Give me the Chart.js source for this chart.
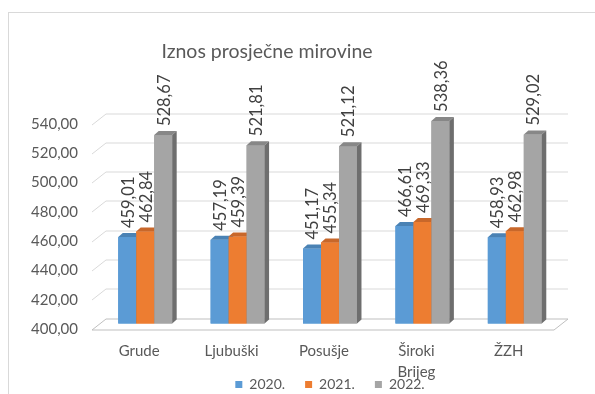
<!DOCTYPE html>
<html>
<head>
<meta charset="utf-8">
<script src="https://cdn.jsdelivr.net/npm/chart.js@4.4.1/dist/chart.umd.min.js"></script>
<style>
  html, body { margin: 0; padding: 0; background: #fff; }
  #wrap { position: relative; width: 595px; height: 394px; overflow: hidden; }
  #frame { position: absolute; left: 8px; top: 12px; width: 700px; height: 500px; border: 1px solid #d9d9d9; }
  #mirovine { position: absolute; left: 0; top: 0; }
</style>
</head>
<body>
<div id="wrap">
  <div id="frame"></div>
  <canvas id="mirovine" width="595" height="394"></canvas>
</div>
<script>
const opcine = ['Grude', 'Ljubuški', 'Posušje', ['Široki', 'Brijeg'], 'ŽZH'];
const godine = ['2020.', '2021.', '2022.'];
const iznos2020 = [459.01, 457.19, 451.17, 466.61, 458.93];
const iznos2021 = [462.84, 459.39, 455.34, 469.33, 462.98];
const iznos2022 = [528.67, 521.81, 521.12, 538.36, 529.02];
const boje = ['#5b9bd5', '#ed7d31', '#a5a5a5'];
const bojeVrh = ['#4a82b4', '#c8672a', '#878787'];
const bojeBok = ['#3f6f99', '#a9551f', '#6e6e6e'];

const fmt = v => v.toFixed(2).replace('.', ',');
const FONT = 'Lato, "Open Sans", sans-serif';

// depth of the floor/back wall and of a single bar
const DX = 7, DY = 5.5;
const BX = 4.5, BY = 4;

const zidPlugin = {
  id: 'zid',
  afterLayout(chart) {
    // let the two-line category label run down past the axis box
    chart.scales.x.bottom = chart.height;
  },
  beforeDatasetsDraw(chart) {
    const {ctx, chartArea: a, scales: {y}} = chart;
    ctx.save();
    ctx.lineWidth = 1;
    y.ticks.forEach(t => {
      const py = Math.round(y.getPixelForValue(t.value)) + 0.5;
      ctx.strokeStyle = t.value === y.min ? '#bfbfbf' : '#d9d9d9';
      ctx.beginPath();
      ctx.moveTo(a.left - DX, py + DY);
      ctx.lineTo(a.left + DX, py - DY);
      ctx.lineTo(a.right + DX, py - DY);
      if (t.value === y.min) {
        ctx.lineTo(a.right - DX, py + DY);
        ctx.lineTo(a.left - DX, py + DY);
      }
      ctx.stroke();
    });
    ctx.restore();
  },
  afterDatasetsDraw(chart) {
    const {ctx, chartArea: a} = chart;
    ctx.save();
    // redraw the bars left to right so each bar hides the side of the one before it
    chart.data.datasets.forEach((ds, i) => {
      chart.getDatasetMeta(i).data.forEach(bar => {
        const l = bar.x - bar.width / 2, r = bar.x + bar.width / 2;
        const base = Math.min(bar.base, a.bottom);
        ctx.fillStyle = boje[i];
        ctx.fillRect(l, bar.y, bar.width, base - bar.y);
        ctx.fillStyle = bojeVrh[i];
        ctx.beginPath();
        ctx.moveTo(l, bar.y);
        ctx.lineTo(r, bar.y);
        ctx.lineTo(r + BX, bar.y - BY);
        ctx.lineTo(l + BX, bar.y - BY);
        ctx.closePath();
        ctx.fill();
        ctx.fillStyle = bojeBok[i];
        ctx.beginPath();
        ctx.moveTo(r, bar.y);
        ctx.lineTo(r + BX, bar.y - BY);
        ctx.lineTo(r + BX, base - BY);
        ctx.lineTo(r, base);
        ctx.closePath();
        ctx.fill();
      });
    });
    ctx.fillStyle = '#404040';
    ctx.font = '16.5px ' + FONT;
    ctx.textAlign = 'left';
    ctx.textBaseline = 'middle';
    chart.data.datasets.forEach((ds, i) => {
      chart.getDatasetMeta(i).data.forEach((bar, j) => {
        ctx.save();
        ctx.translate(bar.x + 1, bar.y - 9);
        ctx.rotate(-Math.PI / 2);
        ctx.fillText(fmt(ds.data[j]), 0, 0);
        ctx.restore();
      });
    });
    // naslov
    ctx.fillStyle = '#595959';
    ctx.font = '19.5px ' + FONT;
    ctx.textAlign = 'center';
    ctx.fillText('Iznos prosječne mirovine', 267, 52);
    ctx.restore();
  }
};

new Chart(document.getElementById('mirovine').getContext('2d'), {
  type: 'bar',
  data: {
    labels: opcine,
    datasets: [
      { label: godine[0], data: iznos2020, backgroundColor: boje[0] },
      { label: godine[1], data: iznos2021, backgroundColor: boje[1] },
      { label: godine[2], data: iznos2022, backgroundColor: boje[2] }
    ]
  },
  options: {
    responsive: false,
    animation: false,
    layout: { padding: { top: 118.5, right: 34, left: 0, bottom: -7.5 } },
    datasets: { bar: { categoryPercentage: 0.584, barPercentage: 1 } },
    plugins: {
      tooltip: { enabled: false },
      legend: {
        position: 'bottom',
        fullSize: false,
        labels: {
          boxWidth: 7, boxHeight: 7, padding: 20,
          color: '#595959',
          font: { family: FONT, size: 14 }
        }
      }
    },
    scales: {
      x: {
        grid: { display: false, drawTicks: false },
        border: { display: false },
        ticks: { color: '#595959', font: { family: FONT, size: 15, lineHeight: 1.35 }, padding: 18, labelOffset: -6, maxRotation: 0 },
        afterFit: s => { s.height = 34; }
      },
      y: {
        min: 400, max: 540,
        grid: { display: false, drawTicks: false },
        border: { display: false },
        ticks: { stepSize: 20, color: '#595959', font: { family: FONT, size: 15 }, padding: 21, labelOffset: 5.5, callback: v => fmt(v) },
        afterFit: s => { s.width = 99; }
      }
    }
  },
  plugins: [zidPlugin]
});
</script>
</body>
</html>
